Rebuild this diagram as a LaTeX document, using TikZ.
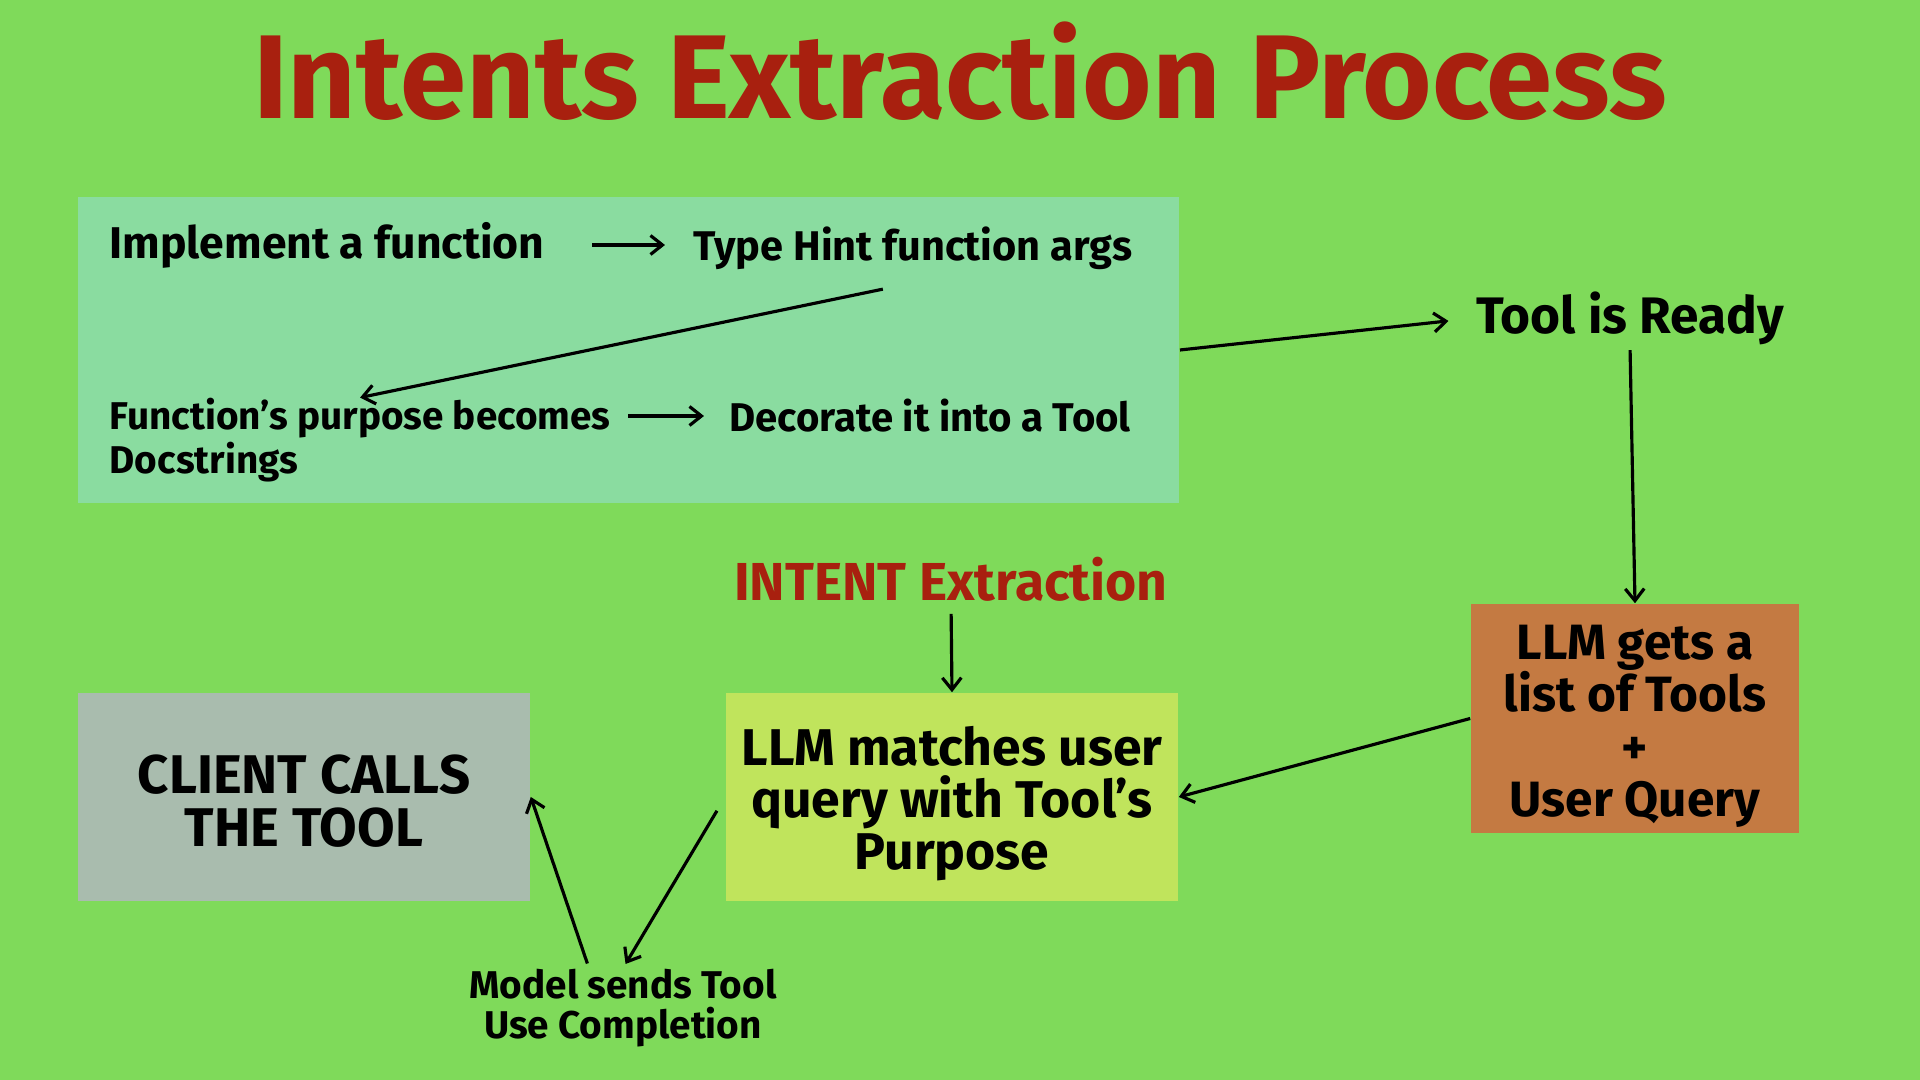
\documentclass[tikz,border=0pt]{standalone}
\usepackage{fontspec}
\setmainfont{Fira Sans}[UprightFont=* Bold]
\usepackage{tikz}
\usetikzlibrary{positioning, calc, arrows.meta}
\definecolor{PageGreen}{HTML}{7FDA5A}
\definecolor{MintBox}{HTML}{8ADCA0}
\definecolor{LimeBox}{HTML}{C0E45C}
\definecolor{RustBox}{HTML}{C47A42}
\definecolor{SageBox}{HTML}{A9BCAE}
\definecolor{TitleRed}{HTML}{A8200F}
\newcommand{\txtsize}[2]{\fontsize{#1}{#2}\selectfont}

\begin{document}
\begin{tikzpicture}[x=0.01cm, y=-0.01cm, >={Straight Barb[length=3.4pt, width=5.4pt]}]
    \tikzstyle{block} = [rectangle, inner sep=0pt]
    \tikzstyle{note} = [inner sep=0pt, align=left, text=black]
    \tikzstyle{boxtext} = [inner sep=0pt, align=center, text=black]
    \tikzstyle{line} = [draw, ->, line width=0.9pt, black]

    \fill[PageGreen] (0,0) rectangle (1920,1080);
    \useasboundingbox (0,0) rectangle (1920,1080);

    \node [note, text=TitleRed, font=\txtsize{33.9pt}{33.9pt}] (title) at (960,71) {Intents Extraction Process};

    % building the tool
    \node [block, fill=MintBox, minimum width=11.01cm, minimum height=3.06cm] (prep) at (628.5,350) {};
    \node [note, anchor=west, font=\txtsize{12.65pt}{12.65pt}] (impl) at (109,245) {Implement a function};
    \node [note, anchor=west, font=\txtsize{11.8pt}{11.8pt}] (hint) at (693,248) {Type Hint function args};
    \node [note, anchor=west, font=\txtsize{11pt}{11.1pt}] (doc) at (109,440) {Function’s purpose becomes\\Docstrings};
    \node [note, anchor=west, font=\txtsize{11.4pt}{11.4pt}] (deco) at (729,416) {Decorate it into a Tool};

    \node [note, font=\txtsize{14.6pt}{14.6pt}] (ready) at (1630,318) {Tool is Ready};

    % using the tool
    \node [block, fill=RustBox, minimum width=3.28cm, minimum height=2.29cm] (list) at (1635,718.5) {};
    \node [boxtext, font=\txtsize{14.1pt}{14.9pt}] (listtxt) at ([yshift=-0.08cm]list.center) {LLM gets a\\list of Tools\\+\\User Query};
    \node [block, fill=LimeBox, minimum width=4.52cm, minimum height=2.08cm] (match) at (952,797) {};
    \node [boxtext, font=\txtsize{14.7pt}{14.8pt}] (matchtxt) at ([yshift=-0.07cm]match.center) {LLM matches user\\query with Tool’s\\Purpose};
    \node [block, fill=SageBox, minimum width=4.52cm, minimum height=2.08cm] (client) at (304,797) {};
    \node [boxtext, font=\txtsize{15.5pt}{15.1pt}] (clienttxt) at ([yshift=-0.04cm]client.center) {CLIENT CALLS\\THE TOOL};
    \node [note, text=TitleRed, font=\txtsize{15.2pt}{15.2pt}] (intent) at (951,579) {INTENT Extraction};
    \node [boxtext, font=\txtsize{11pt}{11.4pt}] (model) at (623,1008) {Model sends Tool\\Use Completion};

    \path [line, shorten <=0.47cm, shorten >=0.28cm] (impl.east) -- (impl.east -| hint.west);
    \path [line] ([xshift=-0.3cm, yshift=-0.19cm]hint.south) -- (doc.north);
    \path [line, shorten <=0.17cm, shorten >=0.25cm] (doc.east |- deco.west) -- (deco.west);
    \path [line, shorten >=0.27cm] (prep.east) -- (ready.west);
    \path [line, shorten <=0.05cm] (ready.south) -- (list.north);
    \path [line] (list.west) -- (match.east);
    \path [line, shorten <=0.12cm] (intent.south) -- (match.north);
    \path [line, shorten <=0.16cm, shorten >=0.05cm] (match.west) -- (model.north);
    \path [line, shorten <=0.05cm] ([xshift=-0.34cm]model.north) -- (client.east);
\end{tikzpicture}
\end{document}
